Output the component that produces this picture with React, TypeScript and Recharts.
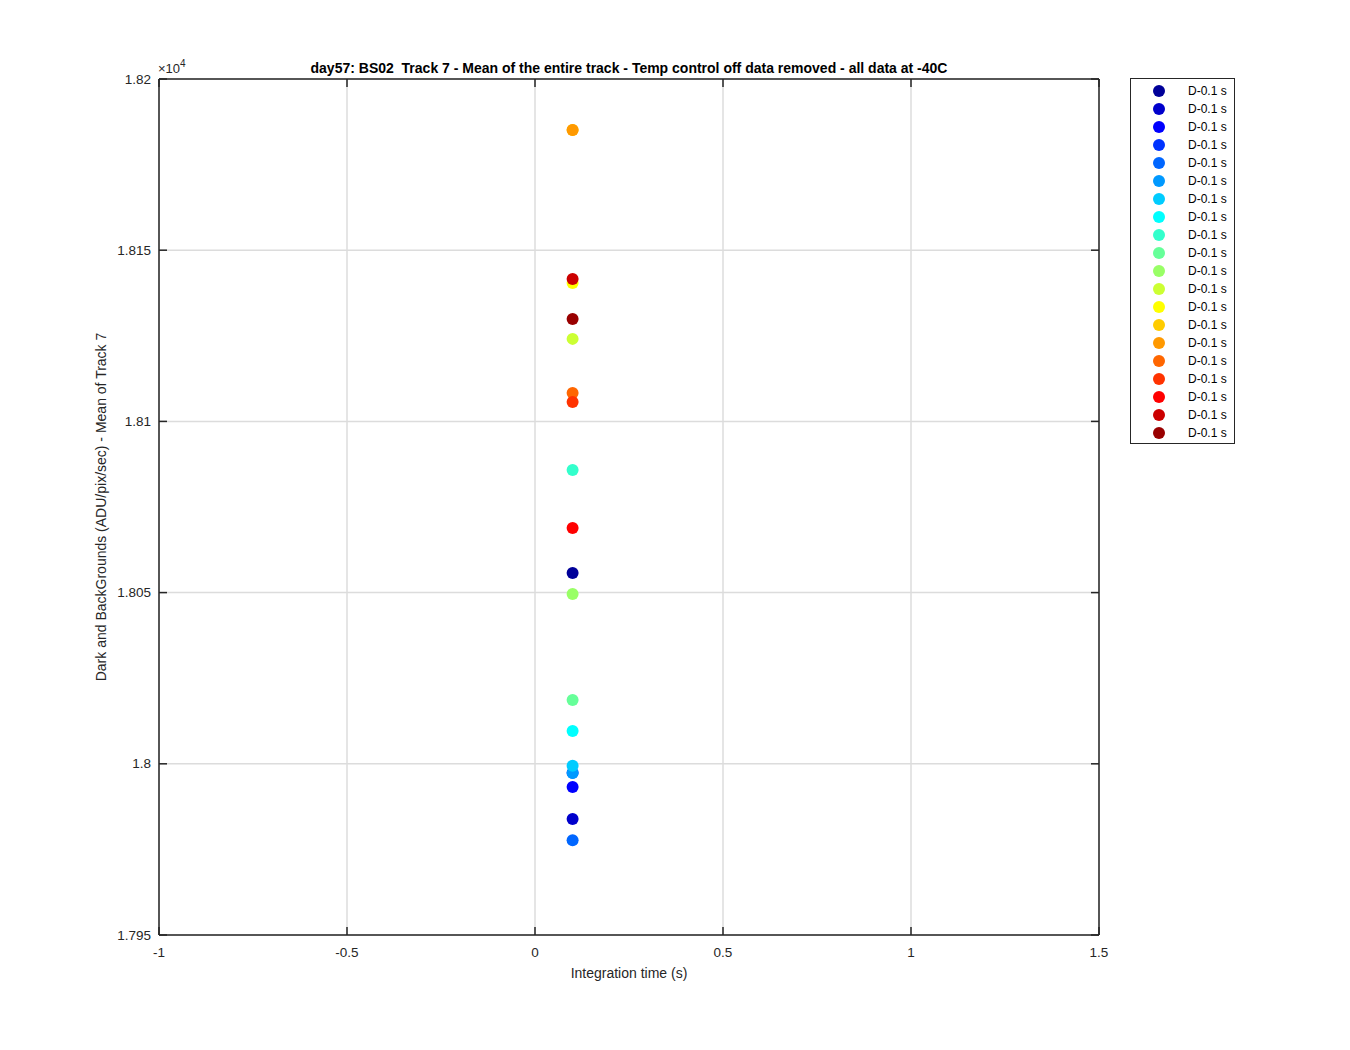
import React from 'react';
import {
  ScatterChart,
  Scatter,
  XAxis,
  YAxis,
  CartesianGrid,
  Legend,
} from 'recharts';

// ---- data ----
const seriesNames: string[] = [
  'D-0.1 s', 'D-0.1 s', 'D-0.1 s', 'D-0.1 s', 'D-0.1 s',
  'D-0.1 s', 'D-0.1 s', 'D-0.1 s', 'D-0.1 s', 'D-0.1 s',
  'D-0.1 s', 'D-0.1 s', 'D-0.1 s', 'D-0.1 s', 'D-0.1 s',
  'D-0.1 s', 'D-0.1 s', 'D-0.1 s', 'D-0.1 s', 'D-0.1 s',
];
const integrationTimes: number[] = [
  0.1, 0.1, 0.1, 0.1, 0.1, 0.1, 0.1, 0.1, 0.1, 0.1,
  0.1, 0.1, 0.1, 0.1, 0.1, 0.1, 0.1, 0.1, 0.1, 0.1,
];
const meanValues: number[] = [
  18055.7, 17983.9, 17993.2, 17997.4, 17977.7,
  17997.3, 17999.4, 18009.6, 18085.8, 18018.6,
  18049.6, 18124.1, 18140.4, 18185.1, 18185.1,
  18108.3, 18105.7, 18068.9, 18141.6, 18129.9,
];
const seriesColors: string[] = [
  '#000099', '#0000CC', '#0000FF', '#0033FF', '#0066FF',
  '#0099FF', '#00CCFF', '#00FFFF', '#33FFCC', '#66FF99',
  '#99FF66', '#CCFF33', '#FFFF00', '#FFCC00', '#FF9900',
  '#FF6600', '#FF3300', '#FF0000', '#CC0000', '#990000',
];
const xTicks: number[] = [-1, -0.5, 0, 0.5, 1, 1.5];
const yTicks: number[] = [17950, 18000, 18050, 18100, 18150, 18200];
const yTickLabels: string[] = ['1.795', '1.8', '1.805', '1.81', '1.815', '1.82'];
const titleText =
  'day57: BS02  Track 7 - Mean of the entire track - Temp control off data removed - all data at -40C';
const xLabelText = 'Integration time (s)';
const yLabelText = 'Dark and BackGrounds (ADU/pix/sec) - Mean of Track 7';

const FONT = '"Liberation Sans", Arial, Helvetica, sans-serif';
const AX = '#262626';
const TICK_LEN = 8;
const TICK_FS = 13.5;

const yFmt = (v: number) => {
  const i = yTicks.indexOf(v);
  return i >= 0 ? yTickLabels[i] : String(v / 10000);
};

const Dot = (props: any) => {
  const { cx, cy, fill } = props;
  if (cx == null || cy == null) return null;
  return <circle cx={cx} cy={cy} r={6} fill={fill} stroke="none" />;
};
const NoShape = () => null;

const BottomTick = (props: any) => {
  const { x, y, payload } = props;
  return (
    <g>
      <line x1={x} x2={x} y1={y} y2={y - TICK_LEN} stroke={AX} strokeWidth={1.5} />
      <text x={x} y={y + 17} textAnchor="middle" dominantBaseline="central" fontSize={TICK_FS} fontFamily={FONT} fill={AX}>
        {String(payload.value)}
      </text>
    </g>
  );
};
const TopTick = (props: any) => {
  const { x, y } = props;
  return <line x1={x} x2={x} y1={y} y2={y + TICK_LEN} stroke={AX} strokeWidth={1.5} />;
};
const LeftTick = (props: any) => {
  const { x, y, payload } = props;
  return (
    <g>
      <line x1={x} x2={x + TICK_LEN} y1={y} y2={y} stroke={AX} strokeWidth={1.5} />
      <text x={x - 8} y={y} textAnchor="end" dominantBaseline="central" fontSize={TICK_FS} fontFamily={FONT} fill={AX}>
        {yFmt(payload.value)}
      </text>
    </g>
  );
};
const RightTick = (props: any) => {
  const { x, y } = props;
  return <line x1={x} x2={x - TICK_LEN} y1={y} y2={y} stroke={AX} strokeWidth={1.5} />;
};

const LegendBox = () => (
  <div
    style={{
      width: 105,
      height: 366,
      border: `1.5px solid ${AX}`,
      background: '#fff',
      boxSizing: 'border-box',
      paddingTop: 3,
      fontFamily: FONT,
      fontSize: 12,
      color: '#000',
    }}
  >
    {seriesNames.map((n, i) => (
      <div key={i} style={{ height: 18, position: 'relative' }}>
        <span
          style={{
            position: 'absolute',
            left: 22,
            top: 3,
            width: 12,
            height: 12,
            borderRadius: 6,
            background: seriesColors[i],
          }}
        />
        <span style={{ position: 'absolute', left: 57, top: 2, lineHeight: '14px' }}>{n}</span>
      </div>
    ))}
  </div>
);

const YLabel = (props: any) => {
  const vb = props.viewBox || {};
  const cx = (vb.x ?? 99) + 2;
  const cy = (vb.y ?? 79) + (vb.height ?? 856) / 2;
  return (
    <text
      x={cx}
      y={cy}
      transform={`rotate(-90 ${cx} ${cy})`}
      textAnchor="middle"
      dominantBaseline="central"
      fontSize={14}
      fontFamily={FONT}
      fill={AX}
    >
      {yLabelText}
    </text>
  );
};

const XLabel = (props: any) => {
  const vb = props.viewBox || {};
  const cx = (vb.x ?? 159) + (vb.width ?? 940) / 2;
  const cy = (vb.y ?? 935) + 38;
  return (
    <text x={cx} y={cy} textAnchor="middle" dominantBaseline="central" fontSize={14} fontFamily={FONT} fill={AX}>
      {xLabelText}
    </text>
  );
};

export default function App() {
  const axisLineStyle = { stroke: AX, strokeWidth: 1.5 };
  const frameData = meanValues.map((v, i) => ({ x: integrationTimes[i], y: v }));
  return (
    <div style={{ position: 'absolute', left: 0, top: 0, width: 1350, height: 1050, background: '#fff', fontFamily: FONT }}>
      <div
        style={{
          position: 'absolute',
          left: 159,
          width: 940,
          top: 59,
          textAlign: 'center',
          fontWeight: 'bold',
          fontSize: 14,
          whiteSpace: 'pre',
          color: '#000',
          zIndex: 2,
          lineHeight: '18px',
        }}
      >
        {titleText}
      </div>
      <div style={{ position: 'absolute', left: 158, top: 61, fontSize: 13, color: AX, zIndex: 2, lineHeight: '15px' }}>
        ×10<span style={{ fontSize: 10, position: 'relative', top: -6 }}>4</span>
      </div>
      <ScatterChart width={1350} height={1050} margin={{ top: 78, right: 250, bottom: 85, left: 99 }}>
        <CartesianGrid
          xAxisId="b"
          yAxisId="l"
          stroke="#dcdcdc"
          strokeWidth={1.5}
          horizontal
          vertical
        />
        <XAxis
          xAxisId="b"
          dataKey="x"
          type="number"
          domain={[-1, 1.5]}
          ticks={xTicks}
          allowDataOverflow
          height={30}
          axisLine={axisLineStyle}
          tickLine={false}
          tickSize={0}
          tickMargin={0}
          tick={<BottomTick />}
          label={<XLabel />}
        />
        <XAxis
          xAxisId="t"
          dataKey="x"
          orientation="top"
          type="number"
          domain={[-1, 1.5]}
          ticks={xTicks}
          allowDataOverflow
          height={1}
          axisLine={axisLineStyle}
          tickLine={false}
          tickSize={0}
          tickMargin={0}
          tick={<TopTick />}
        />
        <YAxis
          yAxisId="l"
          dataKey="y"
          type="number"
          domain={[17950, 18200]}
          ticks={yTicks}
          allowDataOverflow
          width={60}
          axisLine={axisLineStyle}
          tickLine={false}
          tickSize={0}
          tickMargin={0}
          tick={<LeftTick />}
          label={<YLabel />}
        />
        <YAxis
          yAxisId="r"
          dataKey="y"
          orientation="right"
          type="number"
          domain={[17950, 18200]}
          ticks={yTicks}
          allowDataOverflow
          width={1}
          axisLine={axisLineStyle}
          tickLine={false}
          tickSize={0}
          tickMargin={0}
          tick={<RightTick />}
        />
        <Scatter
          xAxisId="t"
          yAxisId="r"
          data={frameData}
          shape={<NoShape />}
          legendType="none"
          isAnimationActive={false}
        />
        {meanValues.map((v, i) => (
          <Scatter
            key={i}
            name={seriesNames[i]}
            xAxisId="b"
            yAxisId="l"
            data={[{ x: integrationTimes[i], y: v }]}
            fill={seriesColors[i]}
            shape={<Dot />}
            isAnimationActive={false}
          />
        ))}
        <Legend
          layout="horizontal"
          verticalAlign="middle"
          align="center"
          content={<LegendBox />}
          wrapperStyle={{ position: 'absolute', left: 1130, top: 78, width: 105, height: 366 }}
        />
      </ScatterChart>
    </div>
  );
}
